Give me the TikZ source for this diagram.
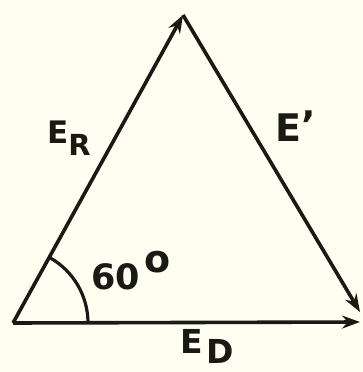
\documentclass[tikz,border=0pt]{standalone}
\usepackage{fontspec}
\setmainfont{DejaVu Sans}
\usetikzlibrary{arrows.meta,calc}
\definecolor{paper}{HTML}{FFFEF0}
\definecolor{ink}{HTML}{1A1A14}
\newcommand{\fsz}[1]{\fontsize{#1}{#1}\selectfont}
\tikzset{
  vec/.style={draw=ink, line width=3.6pt, -{Stealth[length=18pt,width=13pt]}},
  lbl/.style={text=ink, inner sep=0pt, anchor=base west, font=\bfseries},
}
\begin{document}
\begin{tikzpicture}[x=1pt,y=-1pt]
\fill[paper] (0,0) rectangle (363,372);
\useasboundingbox (0,0) rectangle (363,372);
\coordinate (A) at (13,323);
\coordinate (B) at (183,15);
\coordinate (C) at (360,322);
\coordinate (C2) at (360,312);
\draw[vec] (A) -- (B);
\draw[vec] (B) -- (C2);
\draw[vec] (A) -- (C);
\draw[draw=ink, line width=3.2pt] ($(A)+(75,0)$) arc[start angle=0, end angle=-60.5, radius=75];
\node[lbl] (er) at (47,143) {\fsz{31}E\raisebox{-12pt}{\fsz{29}R}};
\node[lbl] (ep) at (275,141) {\fsz{38}E\raisebox{3pt}{'}};
\node[lbl] (ed) at (180,353) {\fsz{33}E\hspace{4pt}\raisebox{-10pt}{D}};
\node[lbl] (ang) at (91,289) {\fsz{35}60\hspace{5pt}\raisebox{17pt}{\fsz{38}o}};
\end{tikzpicture}
\end{document}
